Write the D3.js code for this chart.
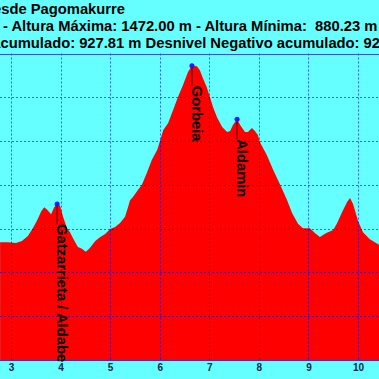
<!DOCTYPE html>
<html>
<head>
<meta charset="utf-8">
<script src="https://cdn.jsdelivr.net/npm/d3@7"></script>
<style>
  body { margin: 0; padding: 0; background: #66ffff; overflow: hidden; }
  svg { display: block; }
</style>
</head>
<body>
<script>
// Profile: distance (km) and altitude (m)
let distKm = [2.78, 2.94, 3.10, 3.22, 3.34, 3.44, 3.53, 3.61, 3.67, 3.73, 3.81, 3.87, 3.93, 3.99,
              4.05, 4.13, 4.19, 4.27, 4.35, 4.43, 4.51, 4.59, 4.70, 4.80, 4.90, 5.00, 5.10, 5.20,
              5.30, 5.36, 5.40, 5.46, 5.56, 5.64, 5.74, 5.84, 5.95, 6.01, 6.07, 6.17, 6.27, 6.37,
              6.47, 6.57, 6.65, 6.75, 6.81, 6.87, 6.95, 7.02, 7.08, 7.16, 7.26, 7.36, 7.42, 7.48,
              7.56, 7.62, 7.72, 7.78, 7.86, 7.92, 7.98, 8.02, 8.16, 8.29, 8.43, 8.57, 8.67, 8.79,
              8.89, 9.03, 9.13, 9.23, 9.36, 9.50, 9.58, 9.68, 9.78, 9.84, 9.90, 10.00, 10.10, 10.24, 10.43];
let altM   = [1069, 1069, 1067, 1072, 1083, 1101, 1120, 1140, 1149, 1143, 1133, 1149, 1156, 1152,
              1127, 1101, 1092, 1074, 1058, 1054, 1047, 1056, 1072, 1081, 1088, 1099, 1104, 1113,
              1127, 1149, 1165, 1172, 1188, 1200, 1227, 1257, 1280, 1302, 1325, 1341, 1371, 1401,
              1428, 1458, 1472, 1471, 1462, 1444, 1423, 1398, 1376, 1353, 1332, 1321, 1323, 1337,
              1350, 1337, 1321, 1321, 1330, 1323, 1314, 1298, 1268, 1234, 1200, 1165, 1136, 1111,
              1101, 1101, 1090, 1081, 1090, 1097, 1113, 1138, 1161, 1170, 1156, 1118, 1092, 1076, 1063];

// Summits marked on the profile
let peakNames = ["Gatzarrieta / Aldabe", "Gorbeia", "Aldamin"];
let peakKm    = [3.93, 6.65, 7.56];
let peakAlt   = [1156, 1472, 1350];

let kmTicks  = [3, 4, 5, 6, 7, 8, 9, 10];
let altTicks = [900, 1000, 1100, 1200, 1300, 1400, 1500];

let titleLines = [
    "desde Pagomakurre",
    "- Altura Máxima: 1472.00 m - Altura Mínima: \u00a0880.23 m",
    "Desnivel Positivo acumulado: 927.81 m Desnivel Negativo acumulado: 927.81 m"
];

let w = 379, h = 379;
let skyColor = '#66ffff';
let groundColor = '#ff0000';
let gridColor = 'rgba(0,0,255,0.6)';
let fontFam = "'Liberation Sans', Arial, sans-serif";
let fontSize = 14.75;

let svg = d3.select('body').append('svg')
            .attr('width', w)
            .attr('height', h);

svg.append('rect')
    .attr('width', w).attr('height', h)
    .attr('fill', skyColor);

// scales
let x = d3.scaleLinear().domain([3, 10]).range([11, 358]);
let y = d3.scaleLinear().domain([800, 1500]).range([360, 53.5]);

let profile = distKm.map((d, i) => ({ km: d, alt: altM[i] }));

let area = d3.area()
            .x(d => x(d.km))
            .y0(y(800))
            .y1(d => y(d.alt));

svg.append('path')
    .datum(profile)
    .attr('d', area)
    .attr('fill', groundColor);

// dotted grid on top of the fill
svg.append('g')
    .selectAll('line')
    .data(kmTicks)
    .enter()
        .append('line')
        .attr('x1', d => Math.round(x(d)) + 0.5)
        .attr('x2', d => Math.round(x(d)) + 0.5)
        .attr('y1', y(1500))
        .attr('y2', y(800))
        .attr('stroke', gridColor)
        .attr('stroke-width', 1)
        .attr('stroke-dasharray', '2,2');

svg.append('g')
    .selectAll('line')
    .data(altTicks.slice(0, -1))
    .enter()
        .append('line')
        .attr('x1', 0)
        .attr('x2', w)
        .attr('y1', d => Math.round(y(d)) + 0.5)
        .attr('y2', d => Math.round(y(d)) + 0.5)
        .attr('stroke', gridColor)
        .attr('stroke-width', 1)
        .attr('stroke-dasharray', '2,2');

// top frame line and bottom axis
svg.append('line')
    .attr('x1', 0).attr('x2', w)
    .attr('y1', Math.round(y(1500)) + 0.5).attr('y2', Math.round(y(1500)) + 0.5)
    .attr('stroke', '#3355dd');

let xAxis = svg.append('g')
            .attr('transform', `translate(0,${Math.round(y(800)) + 0.5})`)
            .call(d3.axisBottom(x).tickValues(kmTicks).tickSize(0).tickPadding(3).tickFormat(d3.format('d')));
xAxis.select('.domain').attr('d', `M0,0H${w}`).attr('stroke', '#4433aa');
xAxis.selectAll('text')
    .attr('font-family', "'Liberation Sans Narrow', " + fontFam)
    .attr('font-weight', 'bold')
    .attr('font-size', 10)
    .attr('fill', '#10284a');

// summit markers
let peaks = peakNames.map((n, i) => ({ name: n, km: peakKm[i], alt: peakAlt[i] }));

let pg = svg.append('g')
            .selectAll('g')
            .data(peaks)
            .enter()
            .append('g')
            .attr('transform', d => `translate(${x(d.km)},${y(d.alt)})`);

pg.append('line')
    .attr('x1', 0).attr('x2', 0)
    .attr('y1', 0).attr('y2', 20)
    .attr('stroke', '#3a0000')
    .attr('stroke-width', 1);

pg.append('circle')
    .attr('r', 2.5)
    .attr('fill', '#1a1aff');

pg.append('text')
    .text(d => d.name)
    .attr('transform', 'translate(0,20) rotate(90)')
    .attr('font-family', fontFam)
    .attr('font-weight', 'bold')
    .attr('font-size', fontSize)
    .attr('fill', '#000');

// titles (the page is a crop, so they run past the edges)
let title = svg.append('g')
            .attr('font-family', fontFam)
            .attr('font-weight', 'bold')
            .attr('font-size', fontSize)
            .attr('fill', '#000');

title.append('text')
    .attr('x', 125).attr('y', 14)
    .attr('text-anchor', 'end')
    .text(titleLines[0]);

title.append('text')
    .attr('x', 3).attr('y', 31)
    .text(titleLines[1]);

let line3 = title.append('text')
            .attr('y', 48)
            .text(titleLines[2]);
// shift so that "cumulado" begins at the left edge
let prefixLen = line3.node().getSubStringLength(0, "Desnivel Positivo a".length);
line3.attr('x', 0.5 - prefixLen);
</script>
</body>
</html>
